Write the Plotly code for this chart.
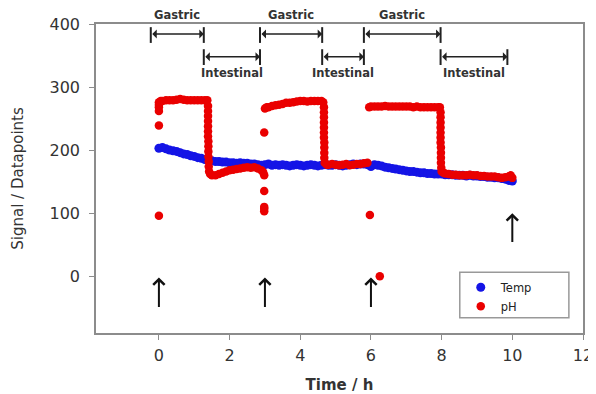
import plotly.graph_objects as go

# ---------------- data ----------------
temp_t = [0.0, 0.1, 0.2, 0.3, 0.4, 0.5, 0.6, 0.7, 0.8, 0.9,
          1.0, 1.1, 1.2, 1.3, 1.4, 1.5, 1.6, 1.7, 1.8, 1.9,
          2.0, 2.1, 2.2, 2.3, 2.4, 2.5, 2.6, 2.7, 2.8, 2.9,
          3.0, 3.1, 3.2, 3.3, 3.4, 3.5, 3.6, 3.7, 3.8, 3.9,
          4.0, 4.1, 4.2, 4.3, 4.4, 4.5, 4.6, 4.7, 4.8, 4.9,
          5.0, 5.1, 5.2, 5.3, 5.4, 5.5, 5.6, 5.7, 5.8, 5.9,
          6.0, 6.1, 6.2, 6.3, 6.4, 6.5, 6.6, 6.7, 6.8, 6.9,
          7.0, 7.1, 7.2, 7.3, 7.4, 7.5, 7.6, 7.7, 7.8, 7.9,
          8.0, 8.1, 8.2, 8.3, 8.4, 8.5, 8.6, 8.7, 8.8, 8.9,
          9.0, 9.1, 9.2, 9.3, 9.4, 9.5, 9.6, 9.7, 9.8, 9.9, 10.0]
temp_v = [203, 204, 202, 200, 199, 198, 196, 194, 193, 191,
          190, 188, 187, 185, 184, 183, 182, 182, 181, 181,
          180, 180, 179, 180, 179, 179, 178, 178, 177, 176,
          177, 178, 176, 177, 176, 177, 176, 175, 176, 177,
          176, 175, 176, 177, 176, 175, 176, 177, 176, 176,
          177, 176, 175, 176, 177, 178, 177, 178, 178, 177,
          174, 177, 176, 175, 173, 172, 171, 170, 169, 168,
          167, 166, 166, 165, 164, 164, 163, 163, 162, 162,
          162, 161, 161, 161, 160, 160, 160, 159, 160, 159,
          159, 158, 158, 157, 157, 156, 156, 155, 154, 152, 151]

ph_t = [0.0, 0.0, 0.0, 0.0, 0.0, 0.0, 0.05,
        0.1, 0.2, 0.3, 0.4, 0.5, 0.6, 0.7, 0.8, 0.9, 1.0, 1.1, 1.2, 1.3, 1.37,
        1.39, 1.39, 1.39, 1.39, 1.39, 1.39, 1.39, 1.4, 1.4, 1.4, 1.4, 1.41, 1.41, 1.42,
        1.45, 1.5, 1.6, 1.7, 1.8, 1.9, 2.0, 2.1, 2.2, 2.3, 2.4, 2.5, 2.6, 2.7, 2.8, 2.9, 2.95,
        2.98, 2.98, 2.98, 2.98, 2.98, 2.98, 3.0, 3.05,
        3.1, 3.2, 3.3, 3.4, 3.5, 3.6, 3.7, 3.8, 3.9, 4.0, 4.1, 4.2, 4.3, 4.4, 4.5, 4.6, 4.65,
        4.67, 4.67, 4.67, 4.67, 4.67, 4.67, 4.67, 4.68, 4.68, 4.68, 4.68, 4.69,
        4.75, 4.8, 4.9, 5.0, 5.1, 5.2, 5.3, 5.4, 5.5, 5.6, 5.7, 5.8, 5.9,
        5.97, 6.25,
        5.95, 6.0, 6.1, 6.2, 6.3, 6.4, 6.5, 6.6, 6.7, 6.8, 6.9, 7.0, 7.1, 7.2, 7.3,
        7.4, 7.5, 7.6, 7.7, 7.8, 7.9, 7.95,
        7.97, 7.97, 7.97, 7.97, 7.97, 7.97, 7.97, 7.98, 7.98, 7.98, 7.98, 7.99, 8.0,
        8.05, 8.1, 8.2, 8.3, 8.4, 8.5, 8.6, 8.7, 8.8, 8.9, 9.0, 9.1, 9.2, 9.3, 9.4,
        9.5, 9.6, 9.7, 9.8, 9.9, 9.95, 10.0]
ph_v = [96, 239, 262, 268, 272, 276, 278,
        278, 279, 279, 279, 280, 281, 280, 279, 279, 279, 279, 279, 279, 279,
        270, 262, 254, 246, 238, 230, 222, 214, 206, 198, 190, 182, 174, 166,
        162, 160, 160, 162, 164, 166, 168, 169, 170, 171, 172, 173, 172, 173, 171, 168, 165,
        103, 107, 110, 135, 160, 228, 266, 268,
        268, 270, 271, 272, 273, 275, 275, 276, 277, 278, 278, 277, 278, 278, 278, 278, 276,
        268, 260, 252, 244, 236, 228, 220, 212, 204, 196, 188, 180,
        177, 177, 178, 177, 176, 177, 178, 176, 177, 178, 178, 179, 180,
        97, 0,
        268, 269, 269, 269, 269, 270, 269, 269, 269, 269, 269, 269, 269, 268, 269,
        268, 268, 268, 268, 268, 268, 268,
        260, 252, 244, 236, 228, 220, 212, 204, 196, 188, 180, 172, 166,
        164, 163, 162, 161, 161, 160, 160, 160, 161, 160, 160, 159, 159, 158, 158,
        158, 157, 156, 157, 158, 160, 156]

# phase brackets (time, h)
gastric_start = [-0.23, 2.86, 5.80]
gastric_end = [1.27, 4.62, 7.97]
intestinal_start = [1.27, 4.62, 7.97]
intestinal_end = [2.86, 5.80, 9.86]
gastric_label = "Gastric"
intestinal_label = "Intestinal"

# sampling arrows
arrow_x = [0, 3, 6, 10]
arrow_tail = [-51, -51, -51, 52]
arrow_head = [-2, -2, -2, 100]

x_ticks = [0, 2, 4, 6, 8, 10, 12]
y_ticks = [0, 100, 200, 300, 400]

# ---------------- figure ----------------
FONT = "DejaVu Sans, Verdana, sans-serif"
fig = go.Figure()
fig.add_trace(go.Scatter(x=temp_t, y=temp_v, mode="markers", name="Temp",
                         marker=dict(color="#1414e6", size=9, line=dict(width=0))))
fig.add_trace(go.Scatter(x=ph_t, y=ph_v, mode="markers", name="pH",
                         marker=dict(color="#ea0000", size=8.5, line=dict(width=0))))

shapes = []
annotations = []
bar_g = (370, 395)
bar_i = (335, 360)
y_g, y_i = 384, 348
for s, e in zip(gastric_start, gastric_end):
    for xx in (s, e):
        shapes.append(dict(type="line", xref="x", yref="y", x0=xx, x1=xx,
                           y0=bar_g[0], y1=bar_g[1], line=dict(color="#222", width=2)))
    annotations.append(dict(x=e, y=y_g, ax=s, ay=y_g, xref="x", yref="y", axref="x", ayref="y",
                            text="", showarrow=True, arrowhead=1, arrowside="end+start",
                            arrowsize=1, arrowwidth=1.5, arrowcolor="#222",
                            standoff=0, startstandoff=0))
    annotations.append(dict(x=(s + e) / 2, y=1.029, xref="x", yref="paper", yanchor="middle",
                            text="<b>%s</b>" % gastric_label, showarrow=False,
                            font=dict(family=FONT, size=11.5, color="#333")))
for s, e in zip(intestinal_start, intestinal_end):
    for xx in (s, e):
        shapes.append(dict(type="line", xref="x", yref="y", x0=xx, x1=xx,
                           y0=bar_i[0], y1=bar_i[1], line=dict(color="#222", width=2)))
    annotations.append(dict(x=e, y=y_i, ax=s, ay=y_i, xref="x", yref="y", axref="x", ayref="y",
                            text="", showarrow=True, arrowhead=1, arrowside="end+start",
                            arrowsize=1, arrowwidth=1.5, arrowcolor="#222",
                            standoff=0, startstandoff=0))
    annotations.append(dict(x=(s + e) / 2, y=322, xref="x", yref="y",
                            text="<b>%s</b>" % intestinal_label, showarrow=False,
                            font=dict(family=FONT, size=11.5, color="#333")))

for xx, t0, h0 in zip(arrow_x, arrow_tail, arrow_head):
    annotations.append(dict(x=xx, y=h0, ax=xx, ay=t0, xref="x", yref="y", axref="x", ayref="y",
                            text="", showarrow=True, arrowhead=4, arrowsize=1.1, arrowwidth=2,
                            arrowcolor="#111", standoff=0))

# legend frame
shapes.append(dict(type="rect", xref="paper", yref="paper", x0=0.747, x1=0.971,
                   y0=0.049, y1=0.197, line=dict(color="#999", width=1.5),
                   fillcolor="rgba(0,0,0,0)", layer="above"))

fig.update_layout(
    width=588, height=386,
    margin=dict(l=88, r=13, t=16, b=61, autoexpand=False),
    paper_bgcolor="white", plot_bgcolor="white",
    font=dict(family=FONT, color="#333"),
    shapes=shapes, annotations=annotations,
    showlegend=True,
    legend=dict(x=0.749, y=0.195, xanchor="left", yanchor="top",
                borderwidth=0, bgcolor="rgba(255,255,255,0)",
                font=dict(family=FONT, size=11.5, color="#222"),
                tracegroupgap=0, itemsizing="trace"),
)
fig.update_xaxes(range=[-1.78, 12], tickvals=x_ticks, showgrid=False, zeroline=False,
                 automargin=False, ticklabelstandoff=2,
                 showline=True, linecolor="#8c8c8c", linewidth=1.5, mirror=True,
                 ticks="outside", ticklen=5, tickcolor="#8c8c8c",
                 tickfont=dict(family=FONT, size=16, color="#333"),
                 title=dict(text="<b>Time / h</b>", font=dict(family=FONT, size=15, color="#333"),
                            standoff=18))
fig.update_yaxes(range=[-90, 400], tickvals=y_ticks, showgrid=False, zeroline=False,
                 automargin=False, ticklabelstandoff=6,
                 showline=True, linecolor="#8c8c8c", linewidth=1.5, mirror=True,
                 ticks="outside", ticklen=5, tickcolor="#8c8c8c",
                 tickfont=dict(family=FONT, size=16, color="#333"),
                 title=dict(text="Signal / Datapoints", font=dict(family=FONT, size=15, color="#333"),
                            standoff=22))

fig.write_html("out.html")
